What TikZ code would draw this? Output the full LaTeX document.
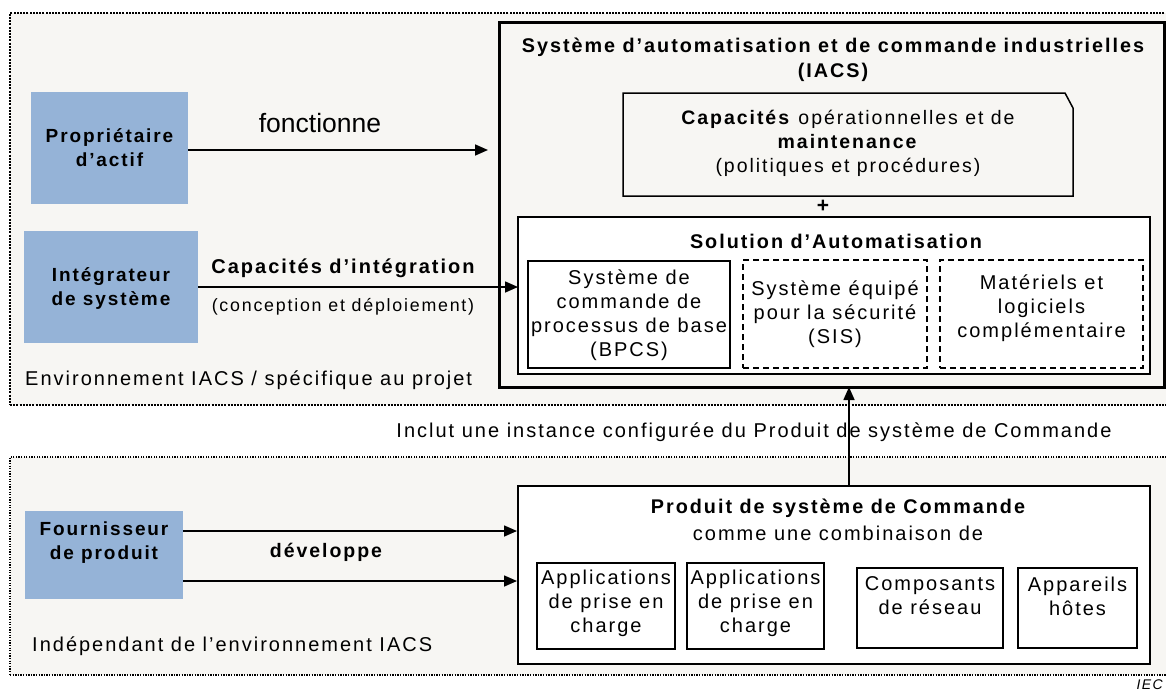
\documentclass[tikz,border=0pt]{standalone}
\usepackage{fontspec}
\setmainfont{Liberation Sans}[LetterSpace=10]
\usetikzlibrary{arrows.meta,fit}
\definecolor{bggray}{HTML}{F7F6F3}
\definecolor{blueb}{HTML}{95B3D7}
\begin{document}
\begin{tikzpicture}[x=1pt,y=-1pt,
  box/.style={draw, inner sep=0pt, outer sep=0pt, line width=1.5pt, fill=white},
  dbox/.style={box, dash pattern=on 6pt off 4pt},
  bgbox/.style={fill=bggray, inner sep=0pt, outer sep=0pt, draw},
  bluebox/.style={fill=blueb, inner sep=0pt, outer sep=0pt, align=center,
    font=\bfseries\fontsize{19}{24}\selectfont},
  txt/.style={inner sep=0pt, align=center, font=\fontsize{20}{24}\selectfont},
  txts/.style={inner sep=0pt, align=center, font=\fontsize{19.5}{24}\selectfont},
  btxt/.style={inner sep=0pt, align=center, font=\bfseries\fontsize{19.8}{25}\selectfont},
  arr/.style={-{Triangle[length=13pt,width=11pt]}, line width=1.6pt}
]
\useasboundingbox (0,0) rectangle (1166,691);
\fill[white] (0,0) rectangle (1166,691);

% environments
\node[bgbox, line width=2.2pt, dash pattern=on 2pt off 1.2pt, fit={(10,13)(1172,405)}] (envtop) {};
\node[bgbox, line width=1.4pt, dash pattern=on 1.3pt off 1.3pt, fit={(10,457)(1172,675)}] (envbot) {};

% actors
\node[bluebox, fit={(31,92)(188,204)}] (prop) {};
\node[bluebox] (propT) at (109.5,148) {Propriétaire\\d’actif};
\node[bluebox, fit={(24,231)(198,343)}] (integ) {};
\node[bluebox] (integT) at (111,288) {Intégrateur\\de système};
\node[bluebox, fit={(25,511)(183,599)}] (fourn) {};
\node[bluebox] (fournT) at (104,543) {Fournisseur\\de produit};

% IACS
\node[box, line width=3pt, fill=bggray, fit={(499,22)(1164,387)}] (iacs) {};
\node[btxt] (iacsT) at (833,59.5) {Système d’automatisation et de commande industrielles\\(IACS)};

\node[inner sep=0pt, outer sep=0pt, fit={(623,93)(1073,196)}] (capac) {};
\draw[line width=1.5pt, fill=bggray] (capac.south west) -- (capac.north west)
  -- ([xshift=-8pt]capac.north east) -- ([yshift=-15pt]capac.north east)
  -- (capac.south east) -- cycle;
\node[txts] (capacT) at (848,143) {\textbf{Capacités} opérationnelles et de\\\textbf{maintenance}\\(politiques et procédures)};
\node[inner sep=0pt, font=\bfseries\fontsize{21}{24}\selectfont] (plus) at (823,206.5) {+};

\node[box, line width=2pt, fit={(518,217)(1150,374)}] (sol) {};
\node[btxt] (solT) at (836,241) {Solution d’Automatisation};
\node[box, fit={(528,261)(730,368)}] (bpcs) {};
\node[txt] (bpcsT) at (629,315) {Système de\\commande de\\processus de base\\(BPCS)};
\node[dbox, fit={(743,260)(927,368)}] (sis) {};
\node[txt] (sisT) at (835,314) {Système équipé\\pour la sécurité\\(SIS)};
\node[dbox, fit={(940,260)(1143,368)}] (mat) {};
\node[txt] (matT) at (1041.5,308) {Matériels et\\logiciels\\complémentaire};

% product
\node[box, line width=2pt, fit={(518,486)(1150,664)}] (prod) {};
\node[btxt] (prodT) at (838,508) {Produit de système de Commande};
\node[txt] (prodS) at (838,533) {comme une combinaison de};
\node[box, fit={(537,563)(675,649)}] (app1) {};
\node[txt] (app1T) at (606,603.5) {Applications\\de prise en\\charge};
\node[box, fit={(687,563)(824,649)}] (app2) {};
\node[txt] (app2T) at (755.5,603.5) {Applications\\de prise en\\charge};
\node[box, fit={(857,568)(1003,648)}] (comp) {};
\node[txt] (compT) at (930,596) {Composants\\de réseau};
\node[box, fit={(1018,568)(1137,648)}] (hotes) {};
\node[txt] (hotesT) at (1077.5,596) {Appareils\\hôtes};

% connectors
\coordinate (fonEnd) at (488,150);
\draw[arr] (prop.east |- fonEnd) -- (fonEnd);
\node[inner sep=0pt, font=\fontsize{26.5}{30}\selectfont\addfontfeature{LetterSpace=0}] (fonT) at (320,123) {fonctionne};

\draw[arr] (integ.east) -- (integ.east -| sol.west);
\node[inner sep=0pt, font=\bfseries\fontsize{20}{24}\selectfont] (capI) at (343,268) {Capacités d’intégration};
\node[inner sep=0pt, font=\fontsize{17.8}{21}\selectfont] (conc) at (343,307) {(conception et déploiement)};

\draw[arr] ([yshift=24pt]fourn.east) -- ++(334,0);
\draw[arr] ([yshift=-26pt]fourn.east) -- ++(334,0);
\node[inner sep=0pt, font=\bfseries\fontsize{19.5}{24}\selectfont] (dev) at (326,552) {développe};

\coordinate (vx) at (849,0);
\draw[arr] (vx |- prod.north) -- (vx |- iacs.south);

% free labels
\node[txt, anchor=west] (envT) at (25,380) {Environnement IACS / spécifique au projet};
\node[txt] (inclT) at (754,432) {Inclut une instance configurée du Produit de système de Commande};
\node[txt, anchor=west] (indT) at (32,646) {Indépendant de l’environnement IACS};
\node[inner sep=0pt, anchor=east, font=\itshape\fontsize{14}{16}\selectfont] (iec) at (1163,685) {IEC};
\end{tikzpicture}
\end{document}
